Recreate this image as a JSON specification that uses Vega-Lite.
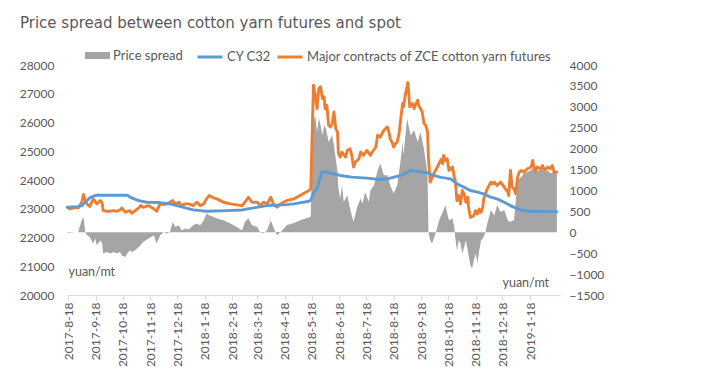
{
  "$schema": "https://vega.github.io/schema/vega-lite/v6.json",
  "width": 493,
  "height": 230,
  "autosize": {"type": "none"},
  "padding": {"left": 67, "top": 65, "right": 162, "bottom": 81},
  "background": "white",
  "config": {
    "view": {"stroke": null},
    "font": "Lato",
    "axis": {"labelFont": "Lato", "labelColor": "#595959", "labelFontSize": 12, "titleFont": "Lato", "titleColor": "#595959", "titleFontWeight": "normal", "titleFontSize": 12.5, "grid": false},
    "legend": {"labelFont": "Lato", "labelColor": "#595959", "labelFontSize": 13, "labelLimit": 0}
  },
  "title": {"text": "Price spread between cotton yarn futures and spot", "anchor": "start", "frame": "group", "dx": -47, "font": "DejaVu Sans", "fontSize": 15, "fontWeight": "normal", "color": "#595959", "offset": 12},
  "data": {"values": [
    {"date": "2017-08-17", "series": "Major contracts of ZCE cotton yarn futures", "value": 23051},
    {"date": "2017-08-20", "series": "Major contracts of ZCE cotton yarn futures", "value": 22994},
    {"date": "2017-08-26", "series": "Major contracts of ZCE cotton yarn futures", "value": 23051},
    {"date": "2017-08-29", "series": "Major contracts of ZCE cotton yarn futures", "value": 23028},
    {"date": "2017-09-02", "series": "Major contracts of ZCE cotton yarn futures", "value": 23226},
    {"date": "2017-09-04", "series": "Major contracts of ZCE cotton yarn futures", "value": 23494},
    {"date": "2017-09-06", "series": "Major contracts of ZCE cotton yarn futures", "value": 23285},
    {"date": "2017-09-08", "series": "Major contracts of ZCE cotton yarn futures", "value": 23168},
    {"date": "2017-09-11", "series": "Major contracts of ZCE cotton yarn futures", "value": 23075},
    {"date": "2017-09-15", "series": "Major contracts of ZCE cotton yarn futures", "value": 23343},
    {"date": "2017-09-17", "series": "Major contracts of ZCE cotton yarn futures", "value": 23261},
    {"date": "2017-09-19", "series": "Major contracts of ZCE cotton yarn futures", "value": 23168},
    {"date": "2017-09-23", "series": "Major contracts of ZCE cotton yarn futures", "value": 23285},
    {"date": "2017-09-25", "series": "Major contracts of ZCE cotton yarn futures", "value": 23190},
    {"date": "2017-09-26", "series": "Major contracts of ZCE cotton yarn futures", "value": 22936},
    {"date": "2017-09-30", "series": "Major contracts of ZCE cotton yarn futures", "value": 22912},
    {"date": "2017-10-04", "series": "Major contracts of ZCE cotton yarn futures", "value": 22912},
    {"date": "2017-10-08", "series": "Major contracts of ZCE cotton yarn futures", "value": 22936},
    {"date": "2017-10-11", "series": "Major contracts of ZCE cotton yarn futures", "value": 22912},
    {"date": "2017-10-15", "series": "Major contracts of ZCE cotton yarn futures", "value": 22959},
    {"date": "2017-10-17", "series": "Major contracts of ZCE cotton yarn futures", "value": 23028},
    {"date": "2017-10-21", "series": "Major contracts of ZCE cotton yarn futures", "value": 22877},
    {"date": "2017-10-23", "series": "Major contracts of ZCE cotton yarn futures", "value": 22912},
    {"date": "2017-10-26", "series": "Major contracts of ZCE cotton yarn futures", "value": 22936},
    {"date": "2017-10-28", "series": "Major contracts of ZCE cotton yarn futures", "value": 22842},
    {"date": "2017-11-01", "series": "Major contracts of ZCE cotton yarn futures", "value": 22936},
    {"date": "2017-11-05", "series": "Major contracts of ZCE cotton yarn futures", "value": 23028},
    {"date": "2017-11-07", "series": "Major contracts of ZCE cotton yarn futures", "value": 23110},
    {"date": "2017-11-10", "series": "Major contracts of ZCE cotton yarn futures", "value": 23051},
    {"date": "2017-11-16", "series": "Major contracts of ZCE cotton yarn futures", "value": 23110},
    {"date": "2017-11-22", "series": "Major contracts of ZCE cotton yarn futures", "value": 22994},
    {"date": "2017-11-25", "series": "Major contracts of ZCE cotton yarn futures", "value": 22912},
    {"date": "2017-11-29", "series": "Major contracts of ZCE cotton yarn futures", "value": 23168},
    {"date": "2017-12-03", "series": "Major contracts of ZCE cotton yarn futures", "value": 23145},
    {"date": "2017-12-07", "series": "Major contracts of ZCE cotton yarn futures", "value": 23168},
    {"date": "2017-12-10", "series": "Major contracts of ZCE cotton yarn futures", "value": 23226},
    {"date": "2017-12-13", "series": "Major contracts of ZCE cotton yarn futures", "value": 23285},
    {"date": "2017-12-16", "series": "Major contracts of ZCE cotton yarn futures", "value": 23168},
    {"date": "2017-12-20", "series": "Major contracts of ZCE cotton yarn futures", "value": 23226},
    {"date": "2017-12-23", "series": "Major contracts of ZCE cotton yarn futures", "value": 23110},
    {"date": "2017-12-27", "series": "Major contracts of ZCE cotton yarn futures", "value": 23168},
    {"date": "2017-12-31", "series": "Major contracts of ZCE cotton yarn futures", "value": 23168},
    {"date": "2018-01-05", "series": "Major contracts of ZCE cotton yarn futures", "value": 23110},
    {"date": "2018-01-09", "series": "Major contracts of ZCE cotton yarn futures", "value": 23226},
    {"date": "2018-01-13", "series": "Major contracts of ZCE cotton yarn futures", "value": 23110},
    {"date": "2018-01-17", "series": "Major contracts of ZCE cotton yarn futures", "value": 23168},
    {"date": "2018-01-20", "series": "Major contracts of ZCE cotton yarn futures", "value": 23343},
    {"date": "2018-01-23", "series": "Major contracts of ZCE cotton yarn futures", "value": 23459},
    {"date": "2018-01-28", "series": "Major contracts of ZCE cotton yarn futures", "value": 23378},
    {"date": "2018-02-01", "series": "Major contracts of ZCE cotton yarn futures", "value": 23343},
    {"date": "2018-02-08", "series": "Major contracts of ZCE cotton yarn futures", "value": 23226},
    {"date": "2018-02-16", "series": "Major contracts of ZCE cotton yarn futures", "value": 23168},
    {"date": "2018-02-23", "series": "Major contracts of ZCE cotton yarn futures", "value": 23133},
    {"date": "2018-03-01", "series": "Major contracts of ZCE cotton yarn futures", "value": 23110},
    {"date": "2018-03-04", "series": "Major contracts of ZCE cotton yarn futures", "value": 23226},
    {"date": "2018-03-08", "series": "Major contracts of ZCE cotton yarn futures", "value": 23401},
    {"date": "2018-03-12", "series": "Major contracts of ZCE cotton yarn futures", "value": 23226},
    {"date": "2018-03-18", "series": "Major contracts of ZCE cotton yarn futures", "value": 23226},
    {"date": "2018-03-21", "series": "Major contracts of ZCE cotton yarn futures", "value": 23110},
    {"date": "2018-03-25", "series": "Major contracts of ZCE cotton yarn futures", "value": 23226},
    {"date": "2018-03-29", "series": "Major contracts of ZCE cotton yarn futures", "value": 23168},
    {"date": "2018-04-02", "series": "Major contracts of ZCE cotton yarn futures", "value": 23401},
    {"date": "2018-04-05", "series": "Major contracts of ZCE cotton yarn futures", "value": 23168},
    {"date": "2018-04-09", "series": "Major contracts of ZCE cotton yarn futures", "value": 23051},
    {"date": "2018-04-13", "series": "Major contracts of ZCE cotton yarn futures", "value": 23168},
    {"date": "2018-04-20", "series": "Major contracts of ZCE cotton yarn futures", "value": 23285},
    {"date": "2018-04-28", "series": "Major contracts of ZCE cotton yarn futures", "value": 23343},
    {"date": "2018-05-05", "series": "Major contracts of ZCE cotton yarn futures", "value": 23459},
    {"date": "2018-05-15", "series": "Major contracts of ZCE cotton yarn futures", "value": 23634},
    {"date": "2018-05-17", "series": "Major contracts of ZCE cotton yarn futures", "value": 23700},
    {"date": "2018-05-20", "series": "Major contracts of ZCE cotton yarn futures", "value": 27301},
    {"date": "2018-05-22", "series": "Major contracts of ZCE cotton yarn futures", "value": 26952},
    {"date": "2018-05-24", "series": "Major contracts of ZCE cotton yarn futures", "value": 26486},
    {"date": "2018-05-26", "series": "Major contracts of ZCE cotton yarn futures", "value": 27185},
    {"date": "2018-05-28", "series": "Major contracts of ZCE cotton yarn futures", "value": 27243},
    {"date": "2018-05-30", "series": "Major contracts of ZCE cotton yarn futures", "value": 26836},
    {"date": "2018-06-01", "series": "Major contracts of ZCE cotton yarn futures", "value": 26894},
    {"date": "2018-06-02", "series": "Major contracts of ZCE cotton yarn futures", "value": 26486},
    {"date": "2018-06-04", "series": "Major contracts of ZCE cotton yarn futures", "value": 26603},
    {"date": "2018-06-06", "series": "Major contracts of ZCE cotton yarn futures", "value": 25904},
    {"date": "2018-06-08", "series": "Major contracts of ZCE cotton yarn futures", "value": 25846},
    {"date": "2018-06-10", "series": "Major contracts of ZCE cotton yarn futures", "value": 25963},
    {"date": "2018-06-12", "series": "Major contracts of ZCE cotton yarn futures", "value": 26370},
    {"date": "2018-06-14", "series": "Major contracts of ZCE cotton yarn futures", "value": 25788},
    {"date": "2018-06-16", "series": "Major contracts of ZCE cotton yarn futures", "value": 25671},
    {"date": "2018-06-17", "series": "Major contracts of ZCE cotton yarn futures", "value": 24915},
    {"date": "2018-06-19", "series": "Major contracts of ZCE cotton yarn futures", "value": 24798},
    {"date": "2018-06-21", "series": "Major contracts of ZCE cotton yarn futures", "value": 24973},
    {"date": "2018-06-25", "series": "Major contracts of ZCE cotton yarn futures", "value": 24798},
    {"date": "2018-06-27", "series": "Major contracts of ZCE cotton yarn futures", "value": 25031},
    {"date": "2018-06-30", "series": "Major contracts of ZCE cotton yarn futures", "value": 25089},
    {"date": "2018-07-02", "series": "Major contracts of ZCE cotton yarn futures", "value": 24856},
    {"date": "2018-07-04", "series": "Major contracts of ZCE cotton yarn futures", "value": 24449},
    {"date": "2018-07-06", "series": "Major contracts of ZCE cotton yarn futures", "value": 24623},
    {"date": "2018-07-10", "series": "Major contracts of ZCE cotton yarn futures", "value": 24740},
    {"date": "2018-07-12", "series": "Major contracts of ZCE cotton yarn futures", "value": 24973},
    {"date": "2018-07-15", "series": "Major contracts of ZCE cotton yarn futures", "value": 24856},
    {"date": "2018-07-19", "series": "Major contracts of ZCE cotton yarn futures", "value": 25031},
    {"date": "2018-07-23", "series": "Major contracts of ZCE cotton yarn futures", "value": 24856},
    {"date": "2018-07-25", "series": "Major contracts of ZCE cotton yarn futures", "value": 24973},
    {"date": "2018-07-29", "series": "Major contracts of ZCE cotton yarn futures", "value": 25147},
    {"date": "2018-07-31", "series": "Major contracts of ZCE cotton yarn futures", "value": 25555},
    {"date": "2018-08-03", "series": "Major contracts of ZCE cotton yarn futures", "value": 25497},
    {"date": "2018-08-07", "series": "Major contracts of ZCE cotton yarn futures", "value": 25730},
    {"date": "2018-08-11", "series": "Major contracts of ZCE cotton yarn futures", "value": 25846},
    {"date": "2018-08-13", "series": "Major contracts of ZCE cotton yarn futures", "value": 25613},
    {"date": "2018-08-14", "series": "Major contracts of ZCE cotton yarn futures", "value": 25439},
    {"date": "2018-08-16", "series": "Major contracts of ZCE cotton yarn futures", "value": 25322},
    {"date": "2018-08-18", "series": "Major contracts of ZCE cotton yarn futures", "value": 25147},
    {"date": "2018-08-20", "series": "Major contracts of ZCE cotton yarn futures", "value": 25264},
    {"date": "2018-08-22", "series": "Major contracts of ZCE cotton yarn futures", "value": 25322},
    {"date": "2018-08-24", "series": "Major contracts of ZCE cotton yarn futures", "value": 25613},
    {"date": "2018-08-26", "series": "Major contracts of ZCE cotton yarn futures", "value": 26137},
    {"date": "2018-08-28", "series": "Major contracts of ZCE cotton yarn futures", "value": 26661},
    {"date": "2018-08-29", "series": "Major contracts of ZCE cotton yarn futures", "value": 26545},
    {"date": "2018-08-31", "series": "Major contracts of ZCE cotton yarn futures", "value": 26952},
    {"date": "2018-09-03", "series": "Major contracts of ZCE cotton yarn futures", "value": 27395},
    {"date": "2018-09-05", "series": "Major contracts of ZCE cotton yarn futures", "value": 26545},
    {"date": "2018-09-08", "series": "Major contracts of ZCE cotton yarn futures", "value": 26661},
    {"date": "2018-09-10", "series": "Major contracts of ZCE cotton yarn futures", "value": 26486},
    {"date": "2018-09-12", "series": "Major contracts of ZCE cotton yarn futures", "value": 26661},
    {"date": "2018-09-14", "series": "Major contracts of ZCE cotton yarn futures", "value": 26777},
    {"date": "2018-09-15", "series": "Major contracts of ZCE cotton yarn futures", "value": 26603},
    {"date": "2018-09-17", "series": "Major contracts of ZCE cotton yarn futures", "value": 26486},
    {"date": "2018-09-19", "series": "Major contracts of ZCE cotton yarn futures", "value": 26370},
    {"date": "2018-09-21", "series": "Major contracts of ZCE cotton yarn futures", "value": 25963},
    {"date": "2018-09-23", "series": "Major contracts of ZCE cotton yarn futures", "value": 25904},
    {"date": "2018-09-25", "series": "Major contracts of ZCE cotton yarn futures", "value": 25671},
    {"date": "2018-09-26", "series": "Major contracts of ZCE cotton yarn futures", "value": 24740},
    {"date": "2018-09-28", "series": "Major contracts of ZCE cotton yarn futures", "value": 23925},
    {"date": "2018-10-02", "series": "Major contracts of ZCE cotton yarn futures", "value": 24220},
    {"date": "2018-10-06", "series": "Major contracts of ZCE cotton yarn futures", "value": 24450},
    {"date": "2018-10-10", "series": "Major contracts of ZCE cotton yarn futures", "value": 24710},
    {"date": "2018-10-12", "series": "Major contracts of ZCE cotton yarn futures", "value": 24565},
    {"date": "2018-10-13", "series": "Major contracts of ZCE cotton yarn futures", "value": 24856},
    {"date": "2018-10-15", "series": "Major contracts of ZCE cotton yarn futures", "value": 24682},
    {"date": "2018-10-17", "series": "Major contracts of ZCE cotton yarn futures", "value": 24740},
    {"date": "2018-10-19", "series": "Major contracts of ZCE cotton yarn futures", "value": 24333},
    {"date": "2018-10-23", "series": "Major contracts of ZCE cotton yarn futures", "value": 24449},
    {"date": "2018-10-25", "series": "Major contracts of ZCE cotton yarn futures", "value": 24100},
    {"date": "2018-10-26", "series": "Major contracts of ZCE cotton yarn futures", "value": 23983},
    {"date": "2018-10-28", "series": "Major contracts of ZCE cotton yarn futures", "value": 23285},
    {"date": "2018-10-30", "series": "Major contracts of ZCE cotton yarn futures", "value": 23459},
    {"date": "2018-11-01", "series": "Major contracts of ZCE cotton yarn futures", "value": 23168},
    {"date": "2018-11-03", "series": "Major contracts of ZCE cotton yarn futures", "value": 23634},
    {"date": "2018-11-05", "series": "Major contracts of ZCE cotton yarn futures", "value": 23517},
    {"date": "2018-11-07", "series": "Major contracts of ZCE cotton yarn futures", "value": 23226},
    {"date": "2018-11-09", "series": "Major contracts of ZCE cotton yarn futures", "value": 23401},
    {"date": "2018-11-10", "series": "Major contracts of ZCE cotton yarn futures", "value": 23051},
    {"date": "2018-11-12", "series": "Major contracts of ZCE cotton yarn futures", "value": 22702},
    {"date": "2018-11-16", "series": "Major contracts of ZCE cotton yarn futures", "value": 22760},
    {"date": "2018-11-18", "series": "Major contracts of ZCE cotton yarn futures", "value": 22936},
    {"date": "2018-11-20", "series": "Major contracts of ZCE cotton yarn futures", "value": 22819},
    {"date": "2018-11-22", "series": "Major contracts of ZCE cotton yarn futures", "value": 22994},
    {"date": "2018-11-24", "series": "Major contracts of ZCE cotton yarn futures", "value": 22877},
    {"date": "2018-11-26", "series": "Major contracts of ZCE cotton yarn futures", "value": 23051},
    {"date": "2018-11-27", "series": "Major contracts of ZCE cotton yarn futures", "value": 23343},
    {"date": "2018-11-29", "series": "Major contracts of ZCE cotton yarn futures", "value": 23517},
    {"date": "2018-12-01", "series": "Major contracts of ZCE cotton yarn futures", "value": 23692},
    {"date": "2018-12-05", "series": "Major contracts of ZCE cotton yarn futures", "value": 23925},
    {"date": "2018-12-07", "series": "Major contracts of ZCE cotton yarn futures", "value": 23867},
    {"date": "2018-12-09", "series": "Major contracts of ZCE cotton yarn futures", "value": 23925},
    {"date": "2018-12-12", "series": "Major contracts of ZCE cotton yarn futures", "value": 23808},
    {"date": "2018-12-16", "series": "Major contracts of ZCE cotton yarn futures", "value": 23925},
    {"date": "2018-12-20", "series": "Major contracts of ZCE cotton yarn futures", "value": 23750},
    {"date": "2018-12-24", "series": "Major contracts of ZCE cotton yarn futures", "value": 23575},
    {"date": "2018-12-25", "series": "Major contracts of ZCE cotton yarn futures", "value": 23459},
    {"date": "2018-12-27", "series": "Major contracts of ZCE cotton yarn futures", "value": 24333},
    {"date": "2018-12-29", "series": "Major contracts of ZCE cotton yarn futures", "value": 23750},
    {"date": "2018-12-31", "series": "Major contracts of ZCE cotton yarn futures", "value": 23692},
    {"date": "2019-01-02", "series": "Major contracts of ZCE cotton yarn futures", "value": 23517},
    {"date": "2019-01-04", "series": "Major contracts of ZCE cotton yarn futures", "value": 24100},
    {"date": "2019-01-06", "series": "Major contracts of ZCE cotton yarn futures", "value": 24274},
    {"date": "2019-01-08", "series": "Major contracts of ZCE cotton yarn futures", "value": 24333},
    {"date": "2019-01-11", "series": "Major contracts of ZCE cotton yarn futures", "value": 24274},
    {"date": "2019-01-15", "series": "Major contracts of ZCE cotton yarn futures", "value": 24391},
    {"date": "2019-01-19", "series": "Major contracts of ZCE cotton yarn futures", "value": 24449},
    {"date": "2019-01-21", "series": "Major contracts of ZCE cotton yarn futures", "value": 24682},
    {"date": "2019-01-22", "series": "Major contracts of ZCE cotton yarn futures", "value": 24507},
    {"date": "2019-01-24", "series": "Major contracts of ZCE cotton yarn futures", "value": 24274},
    {"date": "2019-01-26", "series": "Major contracts of ZCE cotton yarn futures", "value": 24449},
    {"date": "2019-01-30", "series": "Major contracts of ZCE cotton yarn futures", "value": 24391},
    {"date": "2019-02-01", "series": "Major contracts of ZCE cotton yarn futures", "value": 24507},
    {"date": "2019-02-03", "series": "Major contracts of ZCE cotton yarn futures", "value": 24333},
    {"date": "2019-02-07", "series": "Major contracts of ZCE cotton yarn futures", "value": 24449},
    {"date": "2019-02-10", "series": "Major contracts of ZCE cotton yarn futures", "value": 24391},
    {"date": "2019-02-12", "series": "Major contracts of ZCE cotton yarn futures", "value": 24507},
    {"date": "2019-02-14", "series": "Major contracts of ZCE cotton yarn futures", "value": 24274},
    {"date": "2019-02-17", "series": "Major contracts of ZCE cotton yarn futures", "value": 24274},

    {"date": "2017-08-17", "series": "CY C32", "value": 23051},
    {"date": "2017-08-29", "series": "CY C32", "value": 23075},
    {"date": "2017-09-02", "series": "CY C32", "value": 23110},
    {"date": "2017-09-04", "series": "CY C32", "value": 23168},
    {"date": "2017-09-08", "series": "CY C32", "value": 23285},
    {"date": "2017-09-11", "series": "CY C32", "value": 23378},
    {"date": "2017-09-15", "series": "CY C32", "value": 23436},
    {"date": "2017-09-19", "series": "CY C32", "value": 23471},
    {"date": "2017-10-23", "series": "CY C32", "value": 23471},
    {"date": "2017-10-28", "series": "CY C32", "value": 23378},
    {"date": "2017-11-05", "series": "CY C32", "value": 23285},
    {"date": "2017-11-14", "series": "CY C32", "value": 23226},
    {"date": "2017-11-29", "series": "CY C32", "value": 23215},
    {"date": "2017-12-10", "series": "CY C32", "value": 23168},
    {"date": "2017-12-22", "series": "CY C32", "value": 23075},
    {"date": "2018-01-05", "series": "CY C32", "value": 22959},
    {"date": "2018-01-20", "series": "CY C32", "value": 22912},
    {"date": "2018-02-12", "series": "CY C32", "value": 22936},
    {"date": "2018-03-01", "series": "CY C32", "value": 22959},
    {"date": "2018-03-14", "series": "CY C32", "value": 23028},
    {"date": "2018-03-29", "series": "CY C32", "value": 23110},
    {"date": "2018-04-20", "series": "CY C32", "value": 23145},
    {"date": "2018-04-28", "series": "CY C32", "value": 23168},
    {"date": "2018-05-15", "series": "CY C32", "value": 23261},
    {"date": "2018-05-17", "series": "CY C32", "value": 23300},
    {"date": "2018-05-20", "series": "CY C32", "value": 23550},
    {"date": "2018-05-24", "series": "CY C32", "value": 23700},
    {"date": "2018-05-28", "series": "CY C32", "value": 24100},
    {"date": "2018-05-30", "series": "CY C32", "value": 24298},
    {"date": "2018-06-04", "series": "CY C32", "value": 24274},
    {"date": "2018-06-19", "series": "CY C32", "value": 24158},
    {"date": "2018-07-02", "series": "CY C32", "value": 24100},
    {"date": "2018-07-19", "series": "CY C32", "value": 24065},
    {"date": "2018-08-03", "series": "CY C32", "value": 24018},
    {"date": "2018-08-11", "series": "CY C32", "value": 24042},
    {"date": "2018-08-26", "series": "CY C32", "value": 24158},
    {"date": "2018-09-06", "series": "CY C32", "value": 24333},
    {"date": "2018-09-14", "series": "CY C32", "value": 24298},
    {"date": "2018-09-25", "series": "CY C32", "value": 24251},
    {"date": "2018-10-02", "series": "CY C32", "value": 24158},
    {"date": "2018-10-10", "series": "CY C32", "value": 24090},
    {"date": "2018-10-21", "series": "CY C32", "value": 24041},
    {"date": "2018-10-28", "series": "CY C32", "value": 23867},
    {"date": "2018-11-05", "series": "CY C32", "value": 23750},
    {"date": "2018-11-12", "series": "CY C32", "value": 23634},
    {"date": "2018-11-20", "series": "CY C32", "value": 23576},
    {"date": "2018-11-27", "series": "CY C32", "value": 23517},
    {"date": "2018-12-05", "series": "CY C32", "value": 23401},
    {"date": "2018-12-12", "series": "CY C32", "value": 23343},
    {"date": "2018-12-20", "series": "CY C32", "value": 23226},
    {"date": "2018-12-27", "series": "CY C32", "value": 23110},
    {"date": "2019-01-04", "series": "CY C32", "value": 22994},
    {"date": "2019-01-11", "series": "CY C32", "value": 22936},
    {"date": "2019-01-19", "series": "CY C32", "value": 22912},
    {"date": "2019-02-17", "series": "CY C32", "value": 22900},

    {"date": "2017-08-17", "series": "Price spread", "value": -16},
    {"date": "2017-08-20", "series": "Price spread", "value": -10},
    {"date": "2017-08-26", "series": "Price spread", "value": 0},
    {"date": "2017-08-29", "series": "Price spread", "value": 0},
    {"date": "2017-09-02", "series": "Price spread", "value": 287},
    {"date": "2017-09-04", "series": "Price spread", "value": 367},
    {"date": "2017-09-06", "series": "Price spread", "value": 0},
    {"date": "2017-09-08", "series": "Price spread", "value": -72},
    {"date": "2017-09-11", "series": "Price spread", "value": -112},
    {"date": "2017-09-15", "series": "Price spread", "value": -271},
    {"date": "2017-09-17", "series": "Price spread", "value": -151},
    {"date": "2017-09-19", "series": "Price spread", "value": -311},
    {"date": "2017-09-23", "series": "Price spread", "value": -191},
    {"date": "2017-09-25", "series": "Price spread", "value": -271},
    {"date": "2017-09-26", "series": "Price spread", "value": -510},
    {"date": "2017-09-30", "series": "Price spread", "value": -470},
    {"date": "2017-10-04", "series": "Price spread", "value": -510},
    {"date": "2017-10-08", "series": "Price spread", "value": -470},
    {"date": "2017-10-11", "series": "Price spread", "value": -510},
    {"date": "2017-10-15", "series": "Price spread", "value": -470},
    {"date": "2017-10-17", "series": "Price spread", "value": -550},
    {"date": "2017-10-21", "series": "Price spread", "value": -590},
    {"date": "2017-10-23", "series": "Price spread", "value": -510},
    {"date": "2017-10-26", "series": "Price spread", "value": -430},
    {"date": "2017-10-28", "series": "Price spread", "value": -470},
    {"date": "2017-11-01", "series": "Price spread", "value": -430},
    {"date": "2017-11-05", "series": "Price spread", "value": -351},
    {"date": "2017-11-07", "series": "Price spread", "value": -311},
    {"date": "2017-11-10", "series": "Price spread", "value": -231},
    {"date": "2017-11-16", "series": "Price spread", "value": -151},
    {"date": "2017-11-22", "series": "Price spread", "value": -72},
    {"date": "2017-11-25", "series": "Price spread", "value": -271},
    {"date": "2017-11-29", "series": "Price spread", "value": -72},
    {"date": "2017-12-03", "series": "Price spread", "value": 0},
    {"date": "2017-12-07", "series": "Price spread", "value": -32},
    {"date": "2017-12-10", "series": "Price spread", "value": 0},
    {"date": "2017-12-13", "series": "Price spread", "value": 247},
    {"date": "2017-12-16", "series": "Price spread", "value": 127},
    {"date": "2017-12-20", "series": "Price spread", "value": 167},
    {"date": "2017-12-23", "series": "Price spread", "value": 48},
    {"date": "2017-12-27", "series": "Price spread", "value": 88},
    {"date": "2017-12-31", "series": "Price spread", "value": 64},
    {"date": "2018-01-05", "series": "Price spread", "value": 167},
    {"date": "2018-01-09", "series": "Price spread", "value": 207},
    {"date": "2018-01-13", "series": "Price spread", "value": 167},
    {"date": "2018-01-17", "series": "Price spread", "value": 287},
    {"date": "2018-01-20", "series": "Price spread", "value": 446},
    {"date": "2018-01-23", "series": "Price spread", "value": 406},
    {"date": "2018-01-28", "series": "Price spread", "value": 367},
    {"date": "2018-02-01", "series": "Price spread", "value": 327},
    {"date": "2018-02-08", "series": "Price spread", "value": 287},
    {"date": "2018-02-16", "series": "Price spread", "value": 207},
    {"date": "2018-02-23", "series": "Price spread", "value": 127},
    {"date": "2018-03-01", "series": "Price spread", "value": 48},
    {"date": "2018-03-04", "series": "Price spread", "value": 247},
    {"date": "2018-03-08", "series": "Price spread", "value": 327},
    {"date": "2018-03-12", "series": "Price spread", "value": 167},
    {"date": "2018-03-18", "series": "Price spread", "value": 127},
    {"date": "2018-03-21", "series": "Price spread", "value": 0},
    {"date": "2018-03-25", "series": "Price spread", "value": -32},
    {"date": "2018-03-29", "series": "Price spread", "value": 48},
    {"date": "2018-04-02", "series": "Price spread", "value": 287},
    {"date": "2018-04-05", "series": "Price spread", "value": 127},
    {"date": "2018-04-09", "series": "Price spread", "value": -72},
    {"date": "2018-04-13", "series": "Price spread", "value": 0},
    {"date": "2018-04-20", "series": "Price spread", "value": 167},
    {"date": "2018-04-28", "series": "Price spread", "value": 223},
    {"date": "2018-05-05", "series": "Price spread", "value": 287},
    {"date": "2018-05-15", "series": "Price spread", "value": 351},
    {"date": "2018-05-17", "series": "Price spread", "value": 380},
    {"date": "2018-05-19", "series": "Price spread", "value": 2558},
    {"date": "2018-05-22", "series": "Price spread", "value": 2797},
    {"date": "2018-05-24", "series": "Price spread", "value": 2399},
    {"date": "2018-05-26", "series": "Price spread", "value": 2718},
    {"date": "2018-05-28", "series": "Price spread", "value": 2558},
    {"date": "2018-05-30", "series": "Price spread", "value": 2319},
    {"date": "2018-06-01", "series": "Price spread", "value": 2558},
    {"date": "2018-06-03", "series": "Price spread", "value": 2479},
    {"date": "2018-06-06", "series": "Price spread", "value": 2160},
    {"date": "2018-06-10", "series": "Price spread", "value": 2319},
    {"date": "2018-06-12", "series": "Price spread", "value": 2080},
    {"date": "2018-06-14", "series": "Price spread", "value": 1761},
    {"date": "2018-06-16", "series": "Price spread", "value": 1443},
    {"date": "2018-06-17", "series": "Price spread", "value": 1044},
    {"date": "2018-06-19", "series": "Price spread", "value": 805},
    {"date": "2018-06-21", "series": "Price spread", "value": 1124},
    {"date": "2018-06-23", "series": "Price spread", "value": 725},
    {"date": "2018-06-27", "series": "Price spread", "value": 885},
    {"date": "2018-06-30", "series": "Price spread", "value": 566},
    {"date": "2018-07-04", "series": "Price spread", "value": 247},
    {"date": "2018-07-08", "series": "Price spread", "value": 606},
    {"date": "2018-07-12", "series": "Price spread", "value": 805},
    {"date": "2018-07-14", "series": "Price spread", "value": 685},
    {"date": "2018-07-17", "series": "Price spread", "value": 964},
    {"date": "2018-07-21", "series": "Price spread", "value": 725},
    {"date": "2018-07-23", "series": "Price spread", "value": 1004},
    {"date": "2018-07-27", "series": "Price spread", "value": 1124},
    {"date": "2018-07-31", "series": "Price spread", "value": 1482},
    {"date": "2018-08-03", "series": "Price spread", "value": 1642},
    {"date": "2018-08-07", "series": "Price spread", "value": 1363},
    {"date": "2018-08-11", "series": "Price spread", "value": 1363},
    {"date": "2018-08-14", "series": "Price spread", "value": 1124},
    {"date": "2018-08-18", "series": "Price spread", "value": 925},
    {"date": "2018-08-22", "series": "Price spread", "value": 1124},
    {"date": "2018-08-26", "series": "Price spread", "value": 1761},
    {"date": "2018-08-28", "series": "Price spread", "value": 2160},
    {"date": "2018-08-29", "series": "Price spread", "value": 1841},
    {"date": "2018-09-02", "series": "Price spread", "value": 2718},
    {"date": "2018-09-06", "series": "Price spread", "value": 2319},
    {"date": "2018-09-10", "series": "Price spread", "value": 2439},
    {"date": "2018-09-14", "series": "Price spread", "value": 2160},
    {"date": "2018-09-17", "series": "Price spread", "value": 2399},
    {"date": "2018-09-21", "series": "Price spread", "value": 2000},
    {"date": "2018-09-25", "series": "Price spread", "value": 1363},
    {"date": "2018-09-26", "series": "Price spread", "value": 8},
    {"date": "2018-09-28", "series": "Price spread", "value": -191},
    {"date": "2018-09-30", "series": "Price spread", "value": -271},
    {"date": "2018-10-04", "series": "Price spread", "value": -32},
    {"date": "2018-10-08", "series": "Price spread", "value": 287},
    {"date": "2018-10-12", "series": "Price spread", "value": 486},
    {"date": "2018-10-15", "series": "Price spread", "value": 646},
    {"date": "2018-10-19", "series": "Price spread", "value": 287},
    {"date": "2018-10-23", "series": "Price spread", "value": 327},
    {"date": "2018-10-25", "series": "Price spread", "value": 128},
    {"date": "2018-10-26", "series": "Price spread", "value": -112},
    {"date": "2018-10-28", "series": "Price spread", "value": -430},
    {"date": "2018-10-30", "series": "Price spread", "value": -191},
    {"date": "2018-11-01", "series": "Price spread", "value": -271},
    {"date": "2018-11-03", "series": "Price spread", "value": -510},
    {"date": "2018-11-05", "series": "Price spread", "value": -351},
    {"date": "2018-11-07", "series": "Price spread", "value": -191},
    {"date": "2018-11-09", "series": "Price spread", "value": -430},
    {"date": "2018-11-12", "series": "Price spread", "value": -789},
    {"date": "2018-11-14", "series": "Price spread", "value": -869},
    {"date": "2018-11-16", "series": "Price spread", "value": -669},
    {"date": "2018-11-18", "series": "Price spread", "value": -510},
    {"date": "2018-11-20", "series": "Price spread", "value": -749},
    {"date": "2018-11-22", "series": "Price spread", "value": -430},
    {"date": "2018-11-24", "series": "Price spread", "value": -191},
    {"date": "2018-11-27", "series": "Price spread", "value": -112},
    {"date": "2018-11-29", "series": "Price spread", "value": 8},
    {"date": "2018-12-01", "series": "Price spread", "value": 207},
    {"date": "2018-12-05", "series": "Price spread", "value": 526},
    {"date": "2018-12-09", "series": "Price spread", "value": 406},
    {"date": "2018-12-12", "series": "Price spread", "value": 646},
    {"date": "2018-12-16", "series": "Price spread", "value": 486},
    {"date": "2018-12-20", "series": "Price spread", "value": 526},
    {"date": "2018-12-24", "series": "Price spread", "value": 287},
    {"date": "2018-12-26", "series": "Price spread", "value": 247},
    {"date": "2018-12-31", "series": "Price spread", "value": 287},
    {"date": "2019-01-04", "series": "Price spread", "value": 1243},
    {"date": "2019-01-08", "series": "Price spread", "value": 1323},
    {"date": "2019-01-11", "series": "Price spread", "value": 1403},
    {"date": "2019-01-15", "series": "Price spread", "value": 1443},
    {"date": "2019-01-19", "series": "Price spread", "value": 1482},
    {"date": "2019-01-22", "series": "Price spread", "value": 1562},
    {"date": "2019-01-26", "series": "Price spread", "value": 1443},
    {"date": "2019-01-30", "series": "Price spread", "value": 1522},
    {"date": "2019-02-03", "series": "Price spread", "value": 1443},
    {"date": "2019-02-07", "series": "Price spread", "value": 1482},
    {"date": "2019-02-10", "series": "Price spread", "value": 1403},
    {"date": "2019-02-14", "series": "Price spread", "value": 1443},
    {"date": "2019-02-17", "series": "Price spread", "value": 1403}
  ]},
  "encoding": {
    "x": {
      "field": "date", "type": "temporal", "title": null,
      "scale": {"type": "utc", "domain": [{"year": 2017, "month": 8, "date": 16, "hours": 12, "utc": true}, {"year": 2019, "month": 2, "date": 20, "hours": 14, "utc": true}]},
      "axis": {
        "values": [
          {"year": 2017, "month": 8, "date": 18, "utc": true}, {"year": 2017, "month": 9, "date": 18, "utc": true},
          {"year": 2017, "month": 10, "date": 18, "utc": true}, {"year": 2017, "month": 11, "date": 18, "utc": true},
          {"year": 2017, "month": 12, "date": 18, "utc": true}, {"year": 2018, "month": 1, "date": 18, "utc": true},
          {"year": 2018, "month": 2, "date": 18, "utc": true}, {"year": 2018, "month": 3, "date": 18, "utc": true},
          {"year": 2018, "month": 4, "date": 18, "utc": true}, {"year": 2018, "month": 5, "date": 18, "utc": true},
          {"year": 2018, "month": 6, "date": 18, "utc": true}, {"year": 2018, "month": 7, "date": 18, "utc": true},
          {"year": 2018, "month": 8, "date": 18, "utc": true}, {"year": 2018, "month": 9, "date": 18, "utc": true},
          {"year": 2018, "month": 10, "date": 18, "utc": true}, {"year": 2018, "month": 11, "date": 18, "utc": true},
          {"year": 2018, "month": 12, "date": 18, "utc": true}, {"year": 2019, "month": 1, "date": 18, "utc": true}
        ],
        "labelExpr": "utcFormat(datum.value, '%Y-%-m-%-d')",
        "labelAngle": 270, "labelPadding": 2, "tickSize": 5,
        "domainColor": "#D9D9D9", "tickColor": "#D9D9D9", "labelFontSize": 12,
        "labelOverlap": false, "labelFlush": false
      }
    }
  },
  "layer": [
    {
      "transform": [{"filter": "datum.series === 'Price spread'"}],
      "mark": {"type": "area", "interpolate": "linear"},
      "encoding": {
        "y": {
          "field": "value", "type": "quantitative",
          "scale": {"domain": [-1500, 4000], "nice": false, "zero": false},
          "axis": {"orient": "right", "values": [-1500, -1000, -500, 0, 500, 1000, 1500, 2000, 2500, 3000, 3500, 4000], "format": "d", "domain": false, "ticks": false, "tickSize": 0, "labelPadding": 9, "title": "yuan/mt", "titleAngle": 0, "titleAlign": "left", "titleBaseline": "middle", "titleX": -58, "titleY": 217}
        },
        "y2": {"datum": 0},
        "fill": {
          "field": "series", "type": "nominal",
          "scale": {"domain": ["Price spread"], "range": ["#A5A5A5"]},
          "legend": {"orient": "none", "legendX": 18, "legendY": -22, "direction": "horizontal", "title": null, "padding": 0, "symbolType": "M-1,-0.28H1V0.28H-1Z", "symbolSize": 625, "symbolStrokeWidth": 0, "labelOffset": 3}
        }
      }
    },
    {
      "transform": [{"filter": "datum.series !== 'Price spread'"}],
      "mark": {"type": "line", "strokeWidth": 2.9, "strokeJoin": "round", "strokeCap": "round"},
      "encoding": {
        "y": {
          "field": "value", "type": "quantitative",
          "scale": {"domain": [20000, 28000], "nice": false, "zero": false},
          "axis": {"orient": "left", "values": [20000, 21000, 22000, 23000, 24000, 25000, 26000, 27000, 28000], "format": "d", "domain": false, "ticks": false, "tickSize": 0, "labelPadding": 13, "title": "yuan/mt", "titleAngle": 0, "titleAlign": "left", "titleBaseline": "middle", "titleX": 1, "titleY": 206}
        },
        "stroke": {
          "field": "series", "type": "nominal",
          "scale": {"domain": ["CY C32", "Major contracts of ZCE cotton yarn futures"], "range": ["#5B9BD5", "#ED7D31"]},
          "legend": {"orient": "none", "legendX": 129, "legendY": -22, "direction": "horizontal", "title": null, "padding": 0, "symbolType": "stroke", "symbolSize": 625, "symbolStrokeWidth": 3, "labelOffset": 3, "columnPadding": 0}
        }
      }
    }
  ],
  "resolve": {"scale": {"y": "independent"}, "axis": {"y": "independent"}}
}
